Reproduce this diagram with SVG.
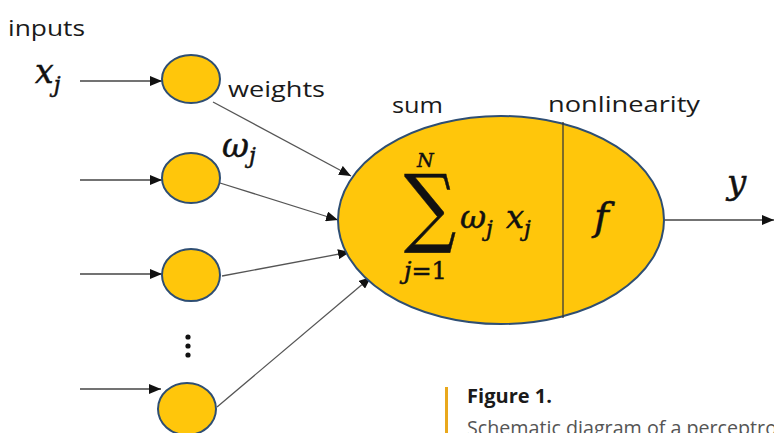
<svg xmlns="http://www.w3.org/2000/svg" width="774" height="433" viewBox="0 0 774 433">
<defs>
<style>
.node{fill:#FFC60B;stroke:#2E4E73;stroke-width:2}
.wire{stroke:#555;stroke-width:1.3;fill:none}
.inw{stroke:#444;stroke-width:1.3;fill:none}
.lbl{font-family:"Open Sans","Noto Sans","Liberation Sans",sans-serif;font-size:22px;fill:#1a1a1a}
.m{font-family:"DejaVu Serif","Liberation Serif",serif;font-style:italic;fill:#111;stroke:#111;stroke-width:0.5}
.mu{font-family:"DejaVu Serif","Liberation Serif",serif;fill:#111;stroke:#111;stroke-width:0.5}
</style>
<marker id="ah" viewBox="0 0 12 10" markerWidth="12" markerHeight="10" refX="12" refY="5" orient="auto" markerUnits="userSpaceOnUse">
<path d="M0,0 L12,5 L0,10 z" fill="#111"/>
</marker>
</defs>
<rect width="774" height="433" fill="#fff"/>

<g id="connectors">
<line class="inw" x1="80" y1="81" x2="162" y2="81" marker-end="url(#ah)"/>
<line class="inw" x1="80" y1="180" x2="162" y2="180" marker-end="url(#ah)"/>
<line class="inw" x1="80" y1="274" x2="162" y2="274" marker-end="url(#ah)"/>
<line class="inw" x1="80" y1="389" x2="161" y2="389" marker-end="url(#ah)"/>
<line class="wire" x1="213" y1="102" x2="351" y2="176" marker-end="url(#ah)"/>
<line class="wire" x1="220" y1="183" x2="338" y2="220" marker-end="url(#ah)"/>
<line class="wire" x1="222" y1="276" x2="350" y2="252" marker-end="url(#ah)"/>
<line class="wire" x1="217" y1="407" x2="371" y2="277" marker-end="url(#ah)"/>
<line class="inw" x1="665" y1="220" x2="774" y2="220" marker-end="url(#ah)"/>
</g>

<g id="input1"><ellipse class="node" cx="191" cy="79" rx="29" ry="24"/></g>
<g id="input2"><ellipse class="node" cx="191" cy="178" rx="29" ry="25"/></g>
<g id="input3"><ellipse class="node" cx="191" cy="275" rx="29" ry="26"/></g>
<g id="input4"><ellipse class="node" cx="187" cy="409" rx="29" ry="26"/></g>

<g id="dots" fill="#111">
<circle cx="188" cy="337" r="2.6"/>
<circle cx="188" cy="346" r="2.6"/>
<circle cx="188" cy="355" r="2.6"/>
</g>

<g id="neuron">
<ellipse class="node" cx="501" cy="220" rx="163" ry="104"/>
<line x1="563" y1="122" x2="563" y2="318" stroke="#3a3a3a" stroke-width="1.3"/>
<text class="mu" transform="translate(404,236) scale(0.85,1)" font-size="86" stroke-width="1">∑</text>
<text class="m" x="417" y="167" font-size="19">N</text>
<text class="mu" x="404" y="279" font-size="24"><tspan font-style="italic">j</tspan>=1</text>
<text class="m" x="460" y="228" font-size="32">ω<tspan font-size="22" dy="8">j</tspan><tspan dy="-8" dx="13">x</tspan><tspan font-size="22" dy="8">j</tspan></text>
<text class="m" x="594" y="230" font-size="40">f</text>
</g>

<g id="labels">
<text class="lbl" x="8" y="36" textLength="77" lengthAdjust="spacingAndGlyphs">inputs</text>
<text class="m" x="35" y="83" font-size="33">x<tspan font-size="22" dy="9">j</tspan></text>
<text class="lbl" x="228" y="97" textLength="97" lengthAdjust="spacingAndGlyphs">weights</text>
<text class="m" x="222" y="157" font-size="33">ω<tspan font-size="22" dy="6">j</tspan></text>
<text class="lbl" x="392" y="113" textLength="51" lengthAdjust="spacingAndGlyphs">sum</text>
<text class="lbl" x="548" y="112" textLength="152" lengthAdjust="spacingAndGlyphs">nonlinearity</text>
<text class="m" x="727" y="194" font-size="34">y</text>
</g>

<g id="caption">
<rect x="445" y="387" width="3" height="46" fill="#E9A81C"/>
<text x="467" y="403" font-family="'Open Sans','Noto Sans','Liberation Sans',sans-serif" font-weight="bold" font-size="20" fill="#1a1a1a" textLength="85" lengthAdjust="spacingAndGlyphs">Figure 1.</text>
<text x="467" y="435" font-family="'Open Sans','Noto Sans','Liberation Sans',sans-serif" font-size="20" fill="#555" textLength="310" lengthAdjust="spacingAndGlyphs">Schematic diagram of a perceptro</text>
</g>
</svg>
